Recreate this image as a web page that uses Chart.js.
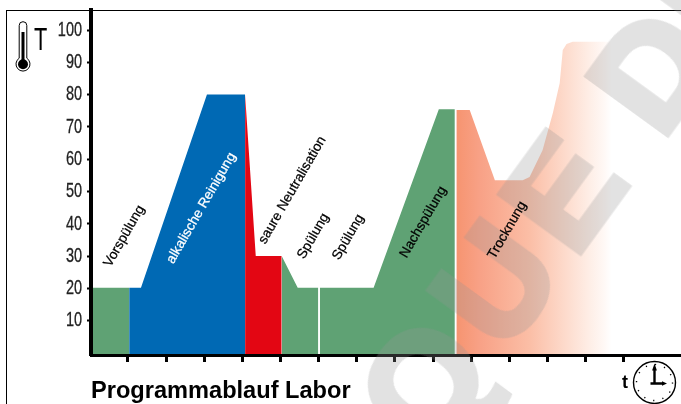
<!DOCTYPE html>
<html>
<head>
<meta charset="utf-8">
<script src="https://cdn.jsdelivr.net/npm/chart.js@4"></script>
<style>
  html,body{margin:0;padding:0;background:#fff;overflow:hidden}
  #wrap{position:relative;width:681px;height:404px;overflow:hidden;font-family:"Liberation Sans",Arial,sans-serif}
  #frame{position:absolute;left:6px;top:10px;width:700px;height:420px;border:1.5px solid #000;box-sizing:border-box}
  canvas{position:absolute;left:0;top:0}
  .stage{position:absolute;font-size:13.7px;line-height:1;white-space:nowrap;color:#000;-webkit-text-stroke:.25px currentColor;transform:translate(-50%,-50%) rotate(-60deg)}
  #title{position:absolute;left:91px;top:376px;font-size:23.6px;font-weight:bold;line-height:1.2;color:#000;white-space:nowrap}
  #tT{position:absolute;left:33.6px;top:20px;font-size:32px;line-height:1.2;transform:scaleX(.68);transform-origin:left top}
  #tt{position:absolute;left:622px;top:372px;font-size:18px;font-weight:bold;line-height:1.2}
  svg{position:absolute}
  .mark{position:absolute;font-size:143px;font-weight:bold;line-height:1;white-space:nowrap;color:#959595;-webkit-text-stroke:7px #959595;opacity:.275;transform-origin:0 0;transform:rotate(-54deg)}
</style>
</head>
<body>
<div id="wrap">
  <div id="frame"></div>
  <canvas id="c" width="681" height="404"></canvas>
  <div class="mark" style="left:333px;top:386px;letter-spacing:15px">QUE</div>
  <div class="mark" style="left:564px;top:69.5px;letter-spacing:4px">DE</div>

  <svg style="left:12px;top:18px" width="24" height="56" viewBox="0 0 24 56">
    <path d="M7.2 7.5a3.8 3.8 0 0 1 7.6 0V40.2a7 7 0 1 1-7.6 0z" fill="#fff" stroke="#000" stroke-width="1"/>
    <rect x="9.5" y="14" width="3" height="28" fill="#000"/>
    <circle cx="11" cy="46.3" r="5" fill="#000"/>
  </svg>
  <div id="tT">T</div>

  <span class="stage" style="left:124px;top:236px">Vorspülung</span>
  <span class="stage" style="left:201px;top:208px;color:#fff">alkalische Reinigung</span>
  <span class="stage" style="left:292px;top:190px">saure Neutralisation</span>
  <span class="stage" style="left:313px;top:236px">Spülung</span>
  <span class="stage" style="left:348px;top:237px">Spülung</span>
  <span class="stage" style="left:423px;top:222px">Nachspülung</span>
  <span class="stage" style="left:507px;top:230px">Trocknung</span>

  <div id="title">Programmablauf Labor</div>
  <div id="tt">t</div>
  <svg style="left:632px;top:360px" width="45" height="45" viewBox="0 0 45 45">
    <circle cx="22.5" cy="22.5" r="21" fill="#fff" stroke="#000" stroke-width="1.4"/>
    <circle cx="22.5" cy="22.5" r="18" fill="none" stroke="#000" stroke-width="1.4" stroke-dasharray="1.2 8.22"/>
    <path d="M22.5 8v16M18.5 23.5h12" stroke="#000" stroke-width="2.4" fill="none"/>
    <path d="M22.5 3.5l-2.4 7h4.8zM35 23.5l-5-2.2v4.4z" fill="#000"/>
  </svg>
</div>

<script>
const yTickValues = [10,20,30,40,50,60,70,80,90,100];
const xTickValues = [1,2,3,4,5,6,7,8,9,10,11,12,13,14];

const vorspuelungX = [0.03,1.03];
const vorspuelungY = [20.2,20.2];
const alkalischX = [1.03,1.34,3.07,4.07];
const alkalischY = [20.2,20.2,80,80];
const saureX = [4.07,4.35,5.03];
const saureY = [80,30,30];
const spuelung1X = [5.03,5.45,5.99];
const spuelung1Y = [30,20.2,20.2];
const spuelung2X = [6.03,7.44,9.15,9.57];
const spuelung2Y = [20.2,20.2,75.5,75.5];
const trocknungX = [9.61,9.96,10.62,11.35,11.53,11.87,12.14,12.32,12.4,12.5,12.66,13.68];
const trocknungY = [75.2,75.2,53.5,53.5,54.5,62.8,74.3,83.6,93.8,95.7,96.4,96.4];

const GREEN='#5FA274', BLUE='#0069B4', RED='#E30613';

const pts=(xs,ys)=>xs.map((x,i)=>({x,y:ys[i]}));

function dryFade(ctx){
  const {chart}=ctx;
  if(!chart.chartArea) return '#F69470';
  const s=chart.scales.x;
  const g=chart.ctx.createLinearGradient(s.getPixelForValue(9.61),0,s.getPixelForValue(13.68),0);
  g.addColorStop(0,'#F69470');
  g.addColorStop(.15,'#F8A186');
  g.addColorStop(.47,'#FBBEA6');
  g.addColorStop(.72,'#FDDDCF');
  g.addColorStop(.85,'#FEEDE5');
  g.addColorStop(.95,'#FFF8F5');
  g.addColorStop(1,'#FFFFFF');
  return g;
}

function area(label,xs,ys,color){
  return {label,data:pts(xs,ys),backgroundColor:color,borderWidth:0,pointRadius:0,fill:'start',tension:0};
}

// tick labels are squeezed in the original, no narrow font here so scale the ctx
const narrowTicks={
  id:'narrowTicks',
  afterDraw(chart){
    const c=chart.ctx, y=chart.scales.y;
    c.save();
    c.font='21px "Liberation Sans"';
    c.fillStyle='#222';
    c.strokeStyle='#222';
    c.lineWidth=.3;
    c.textAlign='right';
    c.textBaseline='middle';
    yTickValues.forEach(v=>{
      c.save();
      c.translate(82,y.getPixelForValue(v));
      c.scale(.69,1);
      c.fillText(String(v),0,0);
      c.strokeText(String(v),0,0);
      c.restore();
    });
    c.restore();
  }
};

new Chart(document.getElementById('c'),{
  type:'line',
  data:{datasets:[
    area('Vorspülung',vorspuelungX,vorspuelungY,GREEN),
    area('alkalische Reinigung',alkalischX,alkalischY,BLUE),
    area('saure Neutralisation',saureX,saureY,RED),
    area('Spülung',spuelung1X,spuelung1Y,GREEN),
    area('Nachspülung',spuelung2X,spuelung2Y,GREEN),
    area('Trocknung',trocknungX,trocknungY,dryFade)
  ]},
  plugins:[narrowTicks],
  options:{
    responsive:false,animation:false,
    layout:{padding:{top:10}},
    plugins:{legend:{display:false},tooltip:{enabled:false},title:{display:false}},
    scales:{
      x:{
        type:'linear',min:0.03,max:15.5,
        afterBuildTicks:a=>{a.ticks=xTickValues.map(value=>({value}));},
        afterFit:a=>{a.height=49;a.paddingLeft=0;a.paddingRight=0;},
        ticks:{display:false},
        border:{color:'#000',width:3,z:1},
        grid:{drawOnChartArea:false,drawTicks:true,tickLength:7,tickWidth:3,tickColor:'#000'}
      },
      y:{
        type:'linear',min:-0.62,max:106.2,
        afterBuildTicks:a=>{a.ticks=yTickValues.map(value=>({value}));},
        afterFit:a=>{a.width=91;a.paddingTop=0;a.paddingBottom=0;},
        ticks:{display:false},
        border:{color:'#000',width:4,z:1},
        grid:{drawOnChartArea:false,drawTicks:true,tickLength:4,tickWidth:2,tickColor:'#000'}
      }
    }
  }
});
</script>
</body>
</html>
